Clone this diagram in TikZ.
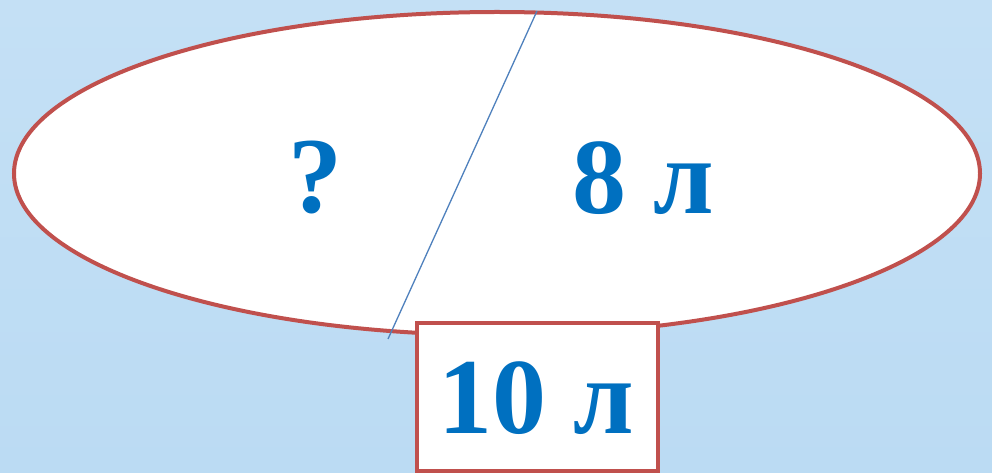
\documentclass[tikz,border=0pt]{standalone}
\usepackage{fontspec}
\setmainfont{Liberation Serif}
\usetikzlibrary{shapes.geometric}
\definecolor{skyA}{HTML}{C4E0F5}
\definecolor{skyB}{HTML}{BBDBF3}
\definecolor{rim}{HTML}{C0504D}
\definecolor{txt}{HTML}{0070C0}
\definecolor{divline}{HTML}{4F81BD}
\begin{document}
\begin{tikzpicture}[x=1pt,y=-1pt,
  lbl/.style={text=txt,font=\fontsize{108}{110}\selectfont\bfseries,inner sep=0pt},
  rimline/.style={draw=rim,line width=4pt}]
\useasboundingbox (0,0) rectangle (992,473);
\shade[top color=skyA,bottom color=skyB] (0,0) rectangle (992,473);
\node[ellipse,rimline,fill=white,minimum width=966pt,minimum height=323pt,inner sep=0pt] (oval) at (497,173.5) {};
\coordinate (top) at (537,11);
\coordinate (bot) at (388,339);
\draw[divline,line width=1.3pt] (top) -- (bot);
\node[rimline,fill=white,minimum width=241pt,minimum height=148pt,inner sep=0pt] (box) at (537.5,397) {};
\node[lbl] (q) at (315,178) {?};
\node[lbl] (eight) at (643,178) {8 л};
\node[lbl] (ten) at (536,398) {10 л};
\end{tikzpicture}
\end{document}
